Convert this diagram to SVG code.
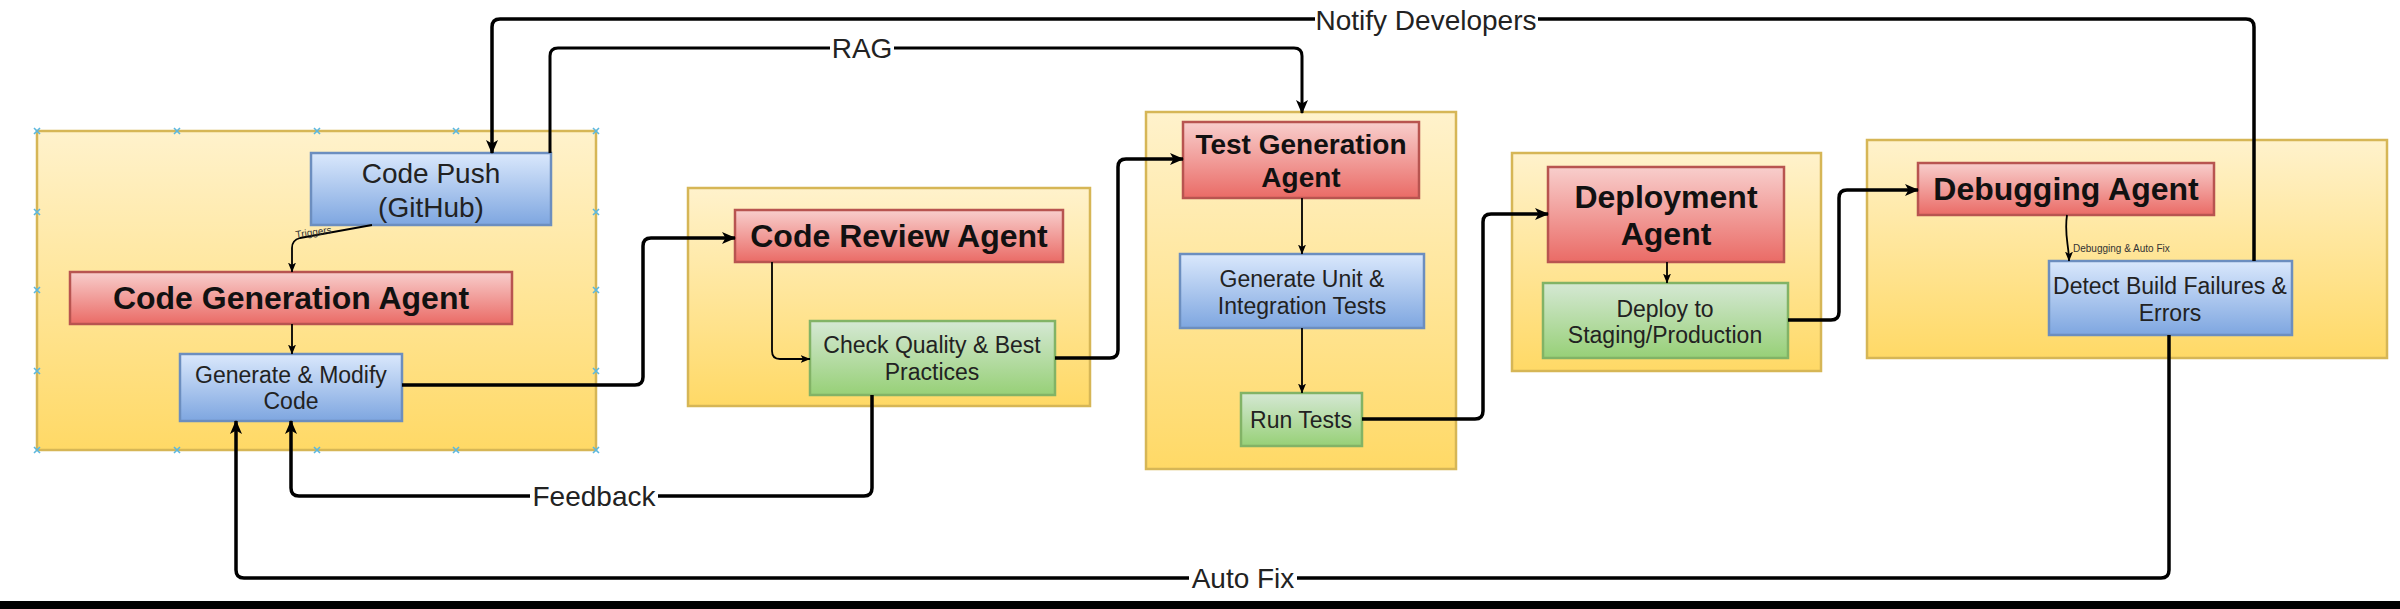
<svg xmlns="http://www.w3.org/2000/svg" width="2400" height="609" viewBox="0 0 2400 609">
<defs>
<linearGradient id="gY" x1="0" y1="0" x2="0" y2="1"><stop offset="0" stop-color="#FFF2CC"/><stop offset="1" stop-color="#FFD966"/></linearGradient>
<linearGradient id="gR" x1="0" y1="0" x2="0" y2="1"><stop offset="0" stop-color="#F8CECC"/><stop offset="1" stop-color="#EA6B66"/></linearGradient>
<linearGradient id="gB" x1="0" y1="0" x2="0" y2="1"><stop offset="0" stop-color="#DAE8FC"/><stop offset="1" stop-color="#7EA6E0"/></linearGradient>
<linearGradient id="gG" x1="0" y1="0" x2="0" y2="1"><stop offset="0" stop-color="#D5E8D4"/><stop offset="1" stop-color="#97D077"/></linearGradient>
<marker id="ah" viewBox="0 0 14 12" refX="13" refY="6" markerWidth="14" markerHeight="12" orient="auto" markerUnits="userSpaceOnUse"><path d="M0,0 L14,6 L0,12 L3.5,6 z" fill="#000"/></marker>
<marker id="ahs" viewBox="0 0 10 8" refX="9.5" refY="4" markerWidth="10" markerHeight="8" orient="auto" markerUnits="userSpaceOnUse"><path d="M0,0 L10,4 L0,8 L2.5,4 z" fill="#000"/></marker>
</defs>
<style>
.cont{fill:url(#gY);stroke:#D6B656;stroke-width:2.5}
.red{fill:url(#gR);stroke:#B85450;stroke-width:2.5}
.blue{fill:url(#gB);stroke:#6C8EBF;stroke-width:2.5}
.green{fill:url(#gG);stroke:#82B366;stroke-width:2.5}
.t{font-family:"Liberation Sans",Arial,sans-serif;font-size:23px;fill:#222;text-anchor:middle}
.tl{font-family:"Liberation Sans",Arial,sans-serif;font-size:28px;fill:#222;text-anchor:middle}
.tb{font-family:"Liberation Sans",Arial,sans-serif;font-size:32px;font-weight:bold;fill:#111;text-anchor:middle}
.tb2{font-family:"Liberation Sans",Arial,sans-serif;font-size:28px;font-weight:bold;fill:#111;text-anchor:middle}
.tiny{font-family:"Liberation Sans",Arial,sans-serif;font-size:10px;fill:#333}
.thick{fill:none;stroke:#000;stroke-width:3.5;marker-end:url(#ah)}
.thin{fill:none;stroke:#000;stroke-width:1.8;marker-end:url(#ahs)}
.lbl{font-family:"Liberation Sans",Arial,sans-serif;font-size:28px;fill:#222;text-anchor:middle}
.hx{stroke:#5BB8E0;stroke-width:1.6}
</style>
<rect x="0" y="0" width="2400" height="609" fill="#FFFFFF"/>

<g id="containers">
<rect id="cont-codegen" class="cont" x="37" y="131" width="559" height="319"/>
<rect id="cont-review" class="cont" x="688" y="188" width="402" height="218"/>
<rect id="cont-test" class="cont" x="1146" y="112" width="310" height="357"/>
<rect id="cont-deploy" class="cont" x="1512" y="153" width="309" height="218"/>
<rect id="cont-debug" class="cont" x="1867" y="140" width="520" height="218"/>
</g>

<g id="handles">
<path class="hx" d="M34,128l6,6m0,-6l-6,6 M174,128l6,6m0,-6l-6,6 M314,128l6,6m0,-6l-6,6 M453,128l6,6m0,-6l-6,6 M593,128l6,6m0,-6l-6,6
M34,447l6,6m0,-6l-6,6 M174,447l6,6m0,-6l-6,6 M314,447l6,6m0,-6l-6,6 M453,447l6,6m0,-6l-6,6 M593,447l6,6m0,-6l-6,6
M34,209l6,6m0,-6l-6,6 M34,287l6,6m0,-6l-6,6 M34,368l6,6m0,-6l-6,6
M593,209l6,6m0,-6l-6,6 M593,287l6,6m0,-6l-6,6 M593,368l6,6m0,-6l-6,6"/>
</g>

<g id="node-codepush">
<rect class="blue" x="311" y="153" width="240" height="72"/>
<text class="tl" x="431" y="183">Code Push</text>
<text class="tl" x="431" y="217">(GitHub)</text>
</g>
<g id="node-codegen-agent">
<rect class="red" x="70" y="272" width="442" height="52"/>
<text class="tb" x="291" y="309">Code Generation Agent</text>
</g>
<g id="node-generate-code">
<rect class="blue" x="180" y="354" width="222" height="67"/>
<text class="t" x="291" y="383">Generate &amp; Modify</text>
<text class="t" x="291" y="409">Code</text>
</g>

<g id="node-review-agent">
<rect class="red" x="735" y="210" width="328" height="52"/>
<text class="tb" x="899" y="247">Code Review Agent</text>
</g>
<g id="node-check-quality">
<rect class="green" x="810" y="321" width="245" height="74"/>
<text class="t" x="932" y="353">Check Quality &amp; Best</text>
<text class="t" x="932" y="380">Practices</text>
</g>

<g id="node-test-agent">
<rect class="red" x="1183" y="122" width="236" height="76"/>
<text class="tb2" x="1301" y="154">Test Generation</text>
<text class="tb2" x="1301" y="187">Agent</text>
</g>
<g id="node-gen-tests">
<rect class="blue" x="1180" y="254" width="244" height="74"/>
<text class="t" x="1302" y="287">Generate Unit &amp;</text>
<text class="t" x="1302" y="314">Integration Tests</text>
</g>
<g id="node-run-tests">
<rect class="green" x="1241" y="393" width="121" height="53"/>
<text class="t" x="1301" y="428">Run Tests</text>
</g>

<g id="node-deploy-agent">
<rect class="red" x="1548" y="167" width="236" height="95"/>
<text class="tb" x="1666" y="208">Deployment</text>
<text class="tb" x="1666" y="245">Agent</text>
</g>
<g id="node-deploy">
<rect class="green" x="1543" y="283" width="245" height="75"/>
<text class="t" x="1665" y="317">Deploy to</text>
<text class="t" x="1665" y="343">Staging/Production</text>
</g>

<g id="node-debug-agent">
<rect class="red" x="1918" y="163" width="296" height="52"/>
<text class="tb" x="2066" y="200">Debugging Agent</text>
</g>
<g id="node-detect">
<rect class="blue" x="2049" y="261" width="243" height="74"/>
<text class="t" x="2170" y="294">Detect Build Failures &amp;</text>
<text class="t" x="2170" y="321">Errors</text>
</g>

<g id="connectors">
<path class="thick" d="M2254 261 V27 Q2254 19 2246 19 H500 Q492 19 492 27 V153"/>
<path class="thick" style="stroke-width:3" d="M550 153 V56 Q550 48 558 48 H1294 Q1302 48 1302 56 V113"/>
<path class="thin" d="M372 225 L300 238 Q292 240 292 248 V272"/>
<path class="thin" d="M292 324 V354"/>
<path class="thick" d="M402 385 H635 Q643 385 643 377 V246 Q643 238 651 238 H735"/>
<path class="thin" d="M772 262 V351 Q772 359 780 359 H810"/>
<path class="thick" d="M1055 358 H1110 Q1118 358 1118 350 V167 Q1118 159 1126 159 H1183"/>
<path class="thin" d="M1302 198 V254"/>
<path class="thin" d="M1302 328 V393"/>
<path class="thick" d="M1362 419 H1475 Q1483 419 1483 411 V222 Q1483 214 1491 214 H1548"/>
<path class="thin" d="M1667 262 V283"/>
<path class="thick" d="M1788 320 H1831 Q1839 320 1839 312 V198 Q1839 190 1847 190 H1918"/>
<path class="thin" d="M2067 215 C2064 235 2069 245 2069 261"/>
<path class="thick" d="M872 395 V488 Q872 496 864 496 H299 Q291 496 291 488 V421"/>
<path class="thick" d="M2169 335 V570 Q2169 578 2161 578 H244 Q236 578 236 570 V421"/>

<rect x="1315" y="5" width="223" height="30" fill="#FFFFFF"/>
<text class="lbl" x="1426" y="30">Notify Developers</text>
<rect x="830" y="33" width="64" height="30" fill="#FFFFFF"/>
<text class="lbl" x="862" y="58">RAG</text>
<rect x="530" y="481" width="128" height="30" fill="#FFFFFF"/>
<text class="lbl" x="594" y="506">Feedback</text>
<rect x="1189" y="563" width="108" height="30" fill="#FFFFFF"/>
<text class="lbl" x="1243" y="588">Auto Fix</text>
<text class="tiny" x="296" y="238" transform="rotate(-8 296 238)">Triggers</text>
<text class="tiny" x="2073" y="252">Debugging &amp; Auto Fix</text>
</g>

<rect x="0" y="601" width="2400" height="8" fill="#000000"/>
</svg>
